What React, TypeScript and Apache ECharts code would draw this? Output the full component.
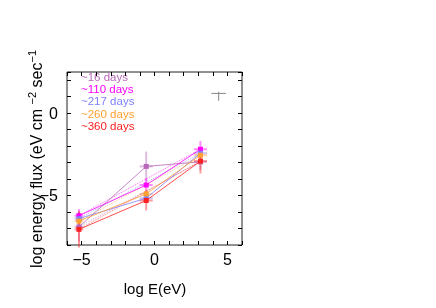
import React, { useEffect, useRef } from "react";
import * as echarts from "echarts";

const DAYS = ["~16 days", "~110 days", "~217 days", "~260 days", "~360 days"];
const COLORS = ["#b868b8", "#ff00ff", "#8080ff", "#ffa030", "#ff2020"];

const LOG_E = [-5.18, -0.57, 3.15];
const LOG_E_ERR = [0.3, 0.45, 0.45];

const FLUX_16 = [-6.9, -3.23, -2.95];
const FLUX_110 = [-6.22, -4.36, -2.19];
const FLUX_217 = [-6.4, -5.16, -2.43];
const FLUX_260 = [-6.55, -4.9, -2.55];
const FLUX_360 = [-7.05, -5.3, -2.91];
const FLUXES = [FLUX_16, FLUX_110, FLUX_217, FLUX_260, FLUX_360];

const ERR_16 = [0.9, 0.9, 0.5];
const ERR_110 = [0.4, 0.4, 0.5];
const ERR_217 = [0.3, 0.3, 0.3];
const ERR_260 = [0.4, 0.3, 0.3];
const ERR_360 = [1.1, 0.6, 0.75];
const ERRS = [ERR_16, ERR_110, ERR_217, ERR_260, ERR_360];

const REF_POINT = [4.4, 1.2];
const REF_ERR_X = 0.5;
const REF_ERR_Y_DOWN = 0.45;
const REF_ERR_Y_UP = 0.1;

const X_MIN = -6, X_MAX = 6;
const Y_MIN = -8, Y_MAX = 2.5;

const FONT = "'Liberation Sans', Arial, sans-serif";

const fmt = (v: number) => (v % 5 === 0 ? (v < 0 ? "\u2212" + Math.abs(v) : String(v)) : "");

function errRender(color: string, width: number, opacity: number) {
  return (params: any, api: any) => {
    const x = api.value(0), y = api.value(1), xe = api.value(2), ylo = api.value(3), yhi = api.value(4);
    const a = api.coord([x - xe, y]);
    const b = api.coord([x + xe, y]);
    const c = api.coord([x, y - ylo]);
    const d = api.coord([x, y + yhi]);
    return {
      type: "group",
      children: [
        { type: "line", shape: { x1: a[0], y1: a[1], x2: b[0], y2: b[1] }, style: { stroke: color, lineWidth: width, opacity } },
        { type: "line", shape: { x1: c[0], y1: c[1], x2: d[0], y2: d[1] }, style: { stroke: color, lineWidth: width, opacity } },
      ],
    };
  };
}

export default function App() {
  const ref = useRef<HTMLDivElement>(null);
  useEffect(() => {
    if (!ref.current) return;
    const chart = echarts.init(ref.current, null, { renderer: "svg" });
    const series: any[] = [];
    FLUXES.forEach((fl, i) => {
      series.push({
        type: "custom",
        z: 1,
        renderItem: errRender(COLORS[i], 2, 0.45),
        encode: { x: 0, y: 1 },
        data: LOG_E.map((x, j) => [x, fl[j], LOG_E_ERR[j], ERRS[i][j], ERRS[i][j]]),
      });
      series.push({
        type: "line",
        z: 2,
        data: [[LOG_E[0], fl[0]], [LOG_E[2], fl[2]]],
        showSymbol: false,
        symbol: "none",
        lineStyle: { color: COLORS[i], width: 1, type: "dotted", opacity: 0.6 },
      });
      series.push({
        type: "line",
        name: DAYS[i],
        z: 3,
        data: LOG_E.map((x, j) => [x, fl[j]]),
        symbol: "rect",
        symbolSize: 5,
        itemStyle: { color: COLORS[i] },
        lineStyle: { color: COLORS[i], width: 1, opacity: 0.8 },
      });
    });
    series.push({
      type: "custom",
      z: 1,
      renderItem: errRender("#888888", 1, 1),
      encode: { x: 0, y: 1 },
      data: [[REF_POINT[0], REF_POINT[1], REF_ERR_X, REF_ERR_Y_DOWN, REF_ERR_Y_UP]],
    });

    const tickStyle = { show: true, inside: true, length: 4, lineStyle: { color: "#000", width: 1 } };
    const noLine = { show: false, onZero: false };
    const option: any = {
      animation: false,
      grid: { left: 67, right: 194, top: 72, bottom: 63, show: true, borderColor: "#222", borderWidth: 1, backgroundColor: "transparent" },
      xAxis: [
        {
          type: "value", min: X_MIN, max: X_MAX, interval: 1, position: "bottom",
          axisLine: noLine, splitLine: { show: false }, axisTick: tickStyle,
          axisLabel: { formatter: fmt, color: "#000", fontSize: 16, fontFamily: FONT, margin: 6, showMinLabel: true, showMaxLabel: true },
        },
        {
          type: "value", min: X_MIN, max: X_MAX, interval: 1, position: "top",
          axisLine: noLine, splitLine: { show: false }, axisTick: tickStyle, axisLabel: { show: false },
        },
      ],
      yAxis: [
        {
          type: "value", min: Y_MIN, max: Y_MAX, interval: 1, position: "left",
          axisLine: noLine, splitLine: { show: false }, axisTick: tickStyle,
          axisLabel: { formatter: fmt, color: "#000", fontSize: 16, fontFamily: FONT, margin: 9 },
        },
        {
          type: "value", min: Y_MIN, max: Y_MAX, interval: 1, position: "right",
          axisLine: noLine, splitLine: { show: false }, axisTick: tickStyle, axisLabel: { show: false },
        },
      ],
      graphic: [
        ...DAYS.map((d, i) => ({
          type: "text",
          x: 81,
          y: 77 + i * 12.2,
          style: {
            text: d, fill: COLORS[i], fontSize: 11.5, fontFamily: FONT, lineHeight: 11,
            textAlign: "left", textVerticalAlign: "middle",
          },
        })),
        {
          type: "text",
          x: 155,
          y: 288,
          style: { text: "log E(eV)", fill: "#000", font: `15px ${FONT}`, textAlign: "center", textVerticalAlign: "middle" },
        },
        {
          type: "text",
          x: 35,
          y: 268,
          rotation: Math.PI / 2,
          style: {
            text: "{a|log energy flux (eV cm }{s|\u22122}{a| sec}{s|\u22121}",
            textAlign: "left",
            textVerticalAlign: "middle",
            rich: {
              a: { fontSize: 16, fontFamily: FONT, fill: "#000", lineHeight: 18, verticalAlign: "bottom" },
              s: { fontSize: 11, fontFamily: FONT, fill: "#000", lineHeight: 18, verticalAlign: "top" },
            },
          },
        },
      ],
      series,
    };
    chart.setOption(option);
    return () => chart.dispose();
  }, []);
  return <div ref={ref} style={{ position: "fixed", left: 0, top: 0, width: 436, height: 308 }} />;
}
